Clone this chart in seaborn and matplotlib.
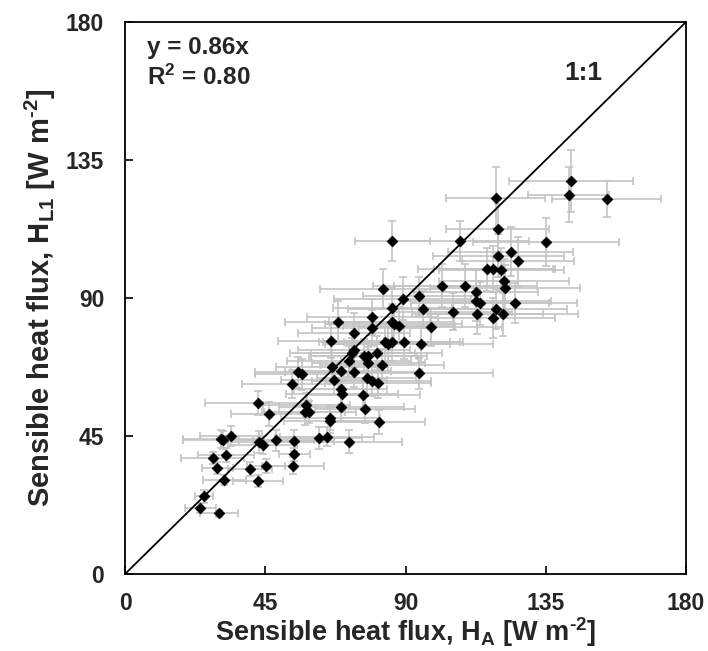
import matplotlib
matplotlib.use("Agg")
import matplotlib.pyplot as plt
import seaborn as sns
import pandas as pd

# Sensible heat flux H_A (x) and H_L1 (y), W m-2, with their uncertainties
ha = [66.3, 71.9, 69.3, 73.4, 55.6, 56.7, 53.6, 67.1, 69.2, 69.5,
      42.8, 58.2, 46.1, 57.7, 59.1, 69.4, 65.9, 65.9, 34.1, 30.7,
      31.5, 42.9, 44.2, 48.5, 54.1, 62.2, 64.8, 72.0, 28.1, 32.4,
      54.3, 29.6, 40.1, 45.2, 53.8, 31.9, 42.8, 25.3, 24.1, 30.1,
      82.7, 89.1, 94.4, 95.6, 85.8, 79.3, 68.4, 85.6, 86.2, 87.9,
      98.1, 79.1, 73.4, 66.2, 83.4, 84.3, 85.6, 89.4, 95.0, 73.4,
      72.9, 76.8, 78.0, 80.8, 78.1, 82.5, 94.2, 77.5, 79.1, 81.1,
      76.5, 77.0, 81.4,
      143.1, 118.9, 142.4, 154.6, 119.6, 85.8, 107.5, 135.0, 123.7, 119.7,
      126.1, 116.0, 118.2, 120.7, 121.6, 122.0, 101.6, 109.2, 112.6, 112.6,
      113.9, 125.1, 105.1, 118.9, 113.0, 121.2, 118.0]
hl = [67.6, 69.4, 66.2, 65.9, 65.8, 65.1, 62.0, 63.3, 60.3, 58.8,
      55.7, 55.1, 52.1, 52.7, 52.9, 54.5, 50.9, 50.0, 45.0, 44.1,
      43.6, 43.0, 42.0, 43.6, 43.5, 44.4, 44.8, 43.1, 37.9, 38.9,
      39.0, 34.5, 34.1, 35.3, 35.3, 30.6, 30.3, 25.3, 21.5, 19.8,
      92.9, 89.7, 90.5, 86.3, 86.6, 83.8, 82.1, 82.1, 81.4, 81.0,
      80.4, 80.2, 78.6, 75.9, 75.5, 75.1, 75.5, 75.5, 75.0, 72.9,
      72.1, 71.1, 71.1, 72.1, 68.9, 68.0, 65.4, 63.8, 63.0, 62.4,
      58.4, 53.8, 49.6,
      128.1, 122.7, 123.7, 122.3, 112.5, 108.6, 108.6, 108.2, 105.1, 103.8,
      102.0, 99.4, 99.3, 99.2, 95.6, 93.2, 94.0, 94.0, 92.0, 88.9,
      88.3, 88.3, 85.5, 86.4, 84.7, 84.7, 83.5]
ha_err = [18, 20, 16, 22, 14, 15, 16, 17, 15, 18,
          17, 14, 12, 13, 15, 20, 16, 15, 10, 12,
          13, 12, 11, 12, 13, 14, 15, 17, 10, 9,
          5, 5, 7, 6, 10, 7, 8, 3, 5, 6,
          20, 22, 18, 24, 19, 21, 17, 20, 22, 18,
          23, 19, 18, 17, 21, 20, 22, 19, 23, 18,
          20, 17, 19, 21, 18, 20, 24, 16, 19, 17,
          18, 16, 15,
          20, 16, 13, 17.5, 16.5, 12, 22, 23.5, 20, 21,
          18, 22, 19, 20, 21, 24, 22, 23, 20, 24,
          22, 20, 19, 23, 21, 24, 20]
hl_err = [5.5, 5, 5, 5, 5, 5, 4.5, 5, 5, 4.5,
          4, 4, 4, 4, 3.5, 4.5, 4, 4, 3.3, 3,
          3, 3.5, 3, 3.5, 3.5, 3.5, 3, 3.8, 2, 2.3,
          2, 1.9, 2.3, 2.3, 2.7, 1.7, 2, 2, 1.5, 1.2,
          6.5, 7, 6.5, 6, 6.5, 6, 7, 6, 5.5, 6,
          6, 6, 6.5, 5.5, 6, 5.5, 6, 5.5, 6, 5.5,
          5, 5.5, 5, 5.5, 5, 5.5, 5, 5, 5, 5,
          4.5, 4.5, 4,
          10, 10, 9, 6, 8, 6.5, 6.4, 7.8, 8, 7,
          8, 7, 7.5, 7, 7, 7.5, 7, 7, 7, 6.5,
          7, 6.5, 6, 6.5, 6.5, 7, 6.5]
ticks = [0, 45, 90, 135, 180]
one_to_one = [0, 180]

df = pd.DataFrame({"HA": ha, "HL": hl, "HA_err": ha_err, "HL_err": hl_err})

sns.set_theme(style="white")
plt.rcParams["font.family"] = ["Liberation Sans", "DejaVu Sans"]
plt.rcParams["font.weight"] = "bold"
plt.rcParams["mathtext.fontset"] = "custom"
plt.rcParams["mathtext.rm"] = "Liberation Sans:bold"
plt.rcParams["mathtext.it"] = "Liberation Sans:bold"
plt.rcParams["mathtext.bf"] = "Liberation Sans:bold"
plt.rcParams["mathtext.default"] = "rm"

fig = plt.figure(figsize=(7.08, 6.51), dpi=100)
ax = fig.add_axes([125 / 708, 77 / 651, 561 / 708, 552 / 651])

ax.errorbar(df["HA"], df["HL"], xerr=df["HA_err"], yerr=df["HL_err"],
            fmt="none", ecolor="#c4c4c4", elinewidth=1.2, capsize=3,
            capthick=1.2, zorder=1)
ax.plot(one_to_one, one_to_one, color="black", lw=1.3, zorder=2)
sns.scatterplot(data=df, x="HA", y="HL", marker="D", s=30, color="black",
                edgecolor="black", linewidth=0.5, ax=ax, zorder=3)

ax.set_xlim(0, 180)
ax.set_ylim(0, 180)
ax.set_xticks(ticks)
ax.set_yticks(ticks)
ax.set_xticklabels([str(t) for t in ticks], fontsize=16.5, fontweight="bold")
ax.set_yticklabels([str(t) for t in ticks], fontsize=16.5, fontweight="bold")
ax.tick_params(axis="both", direction="in", length=6, width=1.2,
               color="black", bottom=True, left=True)
ax.tick_params(axis="x", pad=13)
ax.tick_params(axis="y", pad=15)
for s in ax.spines.values():
    s.set_color("black")
    s.set_linewidth(1.3)

ax.set_xlabel(r"Sensible heat flux, H$_{\mathrm{A}}$ [W m$^{\text{-2}}$]",
              fontsize=19.5, fontweight="bold", labelpad=0)
ax.set_ylabel(r"Sensible heat flux, H$_{\mathrm{L1}}$ [W m$^{\text{-2}}$]",
              fontsize=21, fontweight="bold", labelpad=6)

ax.text(0.04, 0.953, "y = 0.86x", transform=ax.transAxes, fontsize=17.5,
        fontweight="bold", va="center", ha="left")
ax.text(0.04, 0.9, r"R$^{2}$ = 0.80", transform=ax.transAxes, fontsize=17.5,
        fontweight="bold", va="center", ha="left")
ax.text(0.784, 0.908, "1:1", transform=ax.transAxes, fontsize=19,
        fontweight="bold", va="center", ha="left")

fig.savefig("out.png", dpi=100)
